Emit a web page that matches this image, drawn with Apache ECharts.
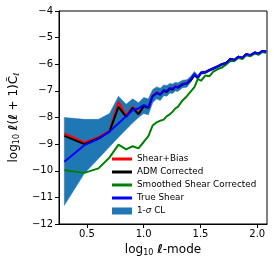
<!DOCTYPE html>
<html>
<head>
<meta charset="utf-8">
<script src="https://cdn.jsdelivr.net/npm/echarts@6/dist/echarts.min.js"></script>
<style>html,body{margin:0;padding:0;background:#fff}#c{width:274px;height:264px}</style>
</head>
<body>
<div id="c"></div>
<script>
// log10(ell) positions
var xVals = [0.301,0.477,0.602,0.699,0.778,0.845,0.903,0.954,1.0,1.041,1.079,1.114,1.146,1.176,1.204,1.23,1.255,1.279,1.301,1.342,1.38,1.415,1.447,1.477,1.505,1.544,1.58,1.613,1.653,1.69,1.724,1.763,1.799,1.833,1.869,1.903,1.94,1.978,2.013,2.045,2.079];
var shearBias = [-8.6,-8.94,-8.74,-8.5,-7.41,-7.92,-7.6,-7.85,-7.55,-7.62,-7.18,-7.05,-7.12,-6.98,-7.02,-6.9,-6.93,-6.82,-6.86,-6.74,-6.7,-6.58,-6.4,-6.5,-6.32,-6.3,-6.22,-6.16,-6.08,-6.0,-5.96,-5.8,-5.84,-5.72,-5.76,-5.62,-5.66,-5.56,-5.6,-5.5,-5.53];
var admCorrected = [-8.69,-9.0,-8.78,-8.53,-7.6,-7.98,-7.64,-7.88,-7.58,-7.64,-7.2,-7.08,-7.14,-7.0,-7.04,-6.92,-6.95,-6.84,-6.88,-6.76,-6.72,-6.6,-6.42,-6.5,-6.32,-6.3,-6.22,-6.16,-6.08,-6.0,-5.96,-5.8,-5.84,-5.72,-5.76,-5.62,-5.66,-5.56,-5.6,-5.5,-5.53];
var smoothed = [-9.98,-10.08,-9.91,-9.5,-9.02,-9.2,-9.08,-9.16,-8.92,-8.7,-8.3,-8.18,-8.12,-8.08,-7.95,-7.88,-7.78,-7.66,-7.6,-7.36,-7.2,-7.02,-6.86,-6.55,-6.62,-6.42,-6.45,-6.28,-6.18,-6.12,-6.02,-5.88,-5.88,-5.76,-5.8,-5.66,-5.7,-5.6,-5.64,-5.54,-5.57];
var trueShear = [-9.66,-9.04,-8.8,-8.53,-8.22,-7.95,-7.72,-7.66,-7.53,-7.62,-7.2,-7.08,-7.14,-6.98,-7.0,-6.9,-6.92,-6.84,-6.86,-6.74,-6.72,-6.56,-6.36,-6.5,-6.32,-6.3,-6.22,-6.16,-6.08,-6.0,-5.96,-5.8,-5.84,-5.72,-5.76,-5.62,-5.66,-5.56,-5.6,-5.5,-5.53];
var clUpper = [-8.0,-8.07,-8.07,-7.85,-7.2,-7.5,-7.3,-7.45,-7.25,-7.3,-6.95,-6.85,-6.9,-6.78,-6.8,-6.72,-6.74,-6.68,-6.7,-6.6,-6.58,-6.45,-6.27,-6.42,-6.26,-6.25,-6.17,-6.11,-6.04,-5.96,-5.92,-5.77,-5.81,-5.69,-5.73,-5.6,-5.64,-5.54,-5.58,-5.48,-5.51];
var clLower = [-11.3,-10.1,-9.54,-9.1,-8.74,-8.45,-8.2,-8.0,-7.85,-7.9,-7.45,-7.3,-7.36,-7.18,-7.2,-7.08,-7.1,-7.0,-7.02,-6.88,-6.86,-6.67,-6.45,-6.58,-6.38,-6.35,-6.27,-6.21,-6.12,-6.04,-6.0,-5.83,-5.87,-5.75,-5.79,-5.64,-5.68,-5.58,-5.62,-5.52,-5.55];
var xTicks = [0.5, 1.0, 1.5, 2.0];

function pairs(ys){ return xVals.map(function(x,i){ return [x, ys[i]]; }); }
var lineIcon = 'path://M0,0H20V3H0Z';
var FONT = 'DejaVu Sans';

var chart = echarts.init(document.getElementById('c'), null, {renderer:'canvas'});
function lineSeries(name, ys, color){
  return {name:name, type:'line', data:pairs(ys), symbol:'none', showSymbol:false,
    lineStyle:{color:color, width:2}, itemStyle:{color:color}, animation:false};
}
var bandSeries = {
  name:'1-σ CL', type:'custom', clip:true, silent:true, animation:false,
  itemStyle:{color:'#1f77b4'},
  data:[[xVals[0], clUpper[0]]],
  renderItem:function(params, api){
    if (params.dataIndex !== 0) return;
    var pts = [];
    for (var i=0;i<xVals.length;i++) pts.push(api.coord([xVals[i], clUpper[i]]));
    for (var j=xVals.length-1;j>=0;j--) pts.push(api.coord([xVals[j], clLower[j]]));
    return {type:'polygon', shape:{points:pts}, style:{fill:'#1f77b4', stroke:'#1f77b4', lineWidth:0.5}};
  }
};
chart.setOption({
  animation:false,
  backgroundColor:'#fff',
  grid:{left:53, right:7, top:11, bottom:40, show:true, borderColor:'#000', borderWidth:1},
  xAxis:{type:'value', min:0.254, max:2.086,
    axisLine:{show:true, lineStyle:{color:'#000', width:1}},
    axisTick:{show:true, length:4, inside:false, customValues:xTicks, lineStyle:{color:'#000'}},
    axisLabel:{customValues:xTicks, color:'#000', fontSize:10, fontFamily:FONT, margin:5,
      formatter:function(v){return v.toFixed(1);}},
    splitLine:{show:false},
    name:'{t|log}{s|10}{t| }{b|ℓ}{t|-mode}', nameLocation:'middle', nameGap:17,
    nameTextStyle:{color:'#000', fontFamily:FONT, fontSize:12,
      rich:{t:{fontSize:12, fontFamily:FONT, color:'#000'},
            s:{fontSize:8, fontFamily:FONT, color:'#000', verticalAlign:'bottom', padding:[6,0,0,0]},
            b:{fontSize:12, fontFamily:FONT, color:'#000', fontStyle:'italic', fontWeight:'bold'}}}
  },
  yAxis:{type:'value', min:-12, max:-4, interval:1,
    axisLine:{show:true, lineStyle:{color:'#000', width:1}},
    axisTick:{show:true, length:4, inside:false, lineStyle:{color:'#000'}},
    axisLabel:{color:'#000', fontSize:10, fontFamily:FONT, margin:6,
      formatter:function(v){return (v<0?'\u2212':'')+Math.abs(v);}},
    splitLine:{show:false},
    name:'{t|log}{s|10}{t| }{b|ℓ}{t|(}{b|ℓ}{t| + 1)}{t|C\u0303}{s|ℓ}', nameLocation:'middle', nameGap:38, nameRotate:90,
    nameTextStyle:{color:'#000', fontFamily:FONT, fontSize:12,
      rich:{t:{fontSize:12, fontFamily:FONT, color:'#000'},
            s:{fontSize:8, fontFamily:FONT, color:'#000', verticalAlign:'bottom', padding:[6,0,0,0]},
            b:{fontSize:12, fontFamily:FONT, color:'#000', fontStyle:'italic', fontWeight:'bold'}}}
  },
  legend:{orient:'vertical', left:112, top:153, itemWidth:20, itemHeight:7, itemGap:1, padding:0,
    textStyle:{color:'#000', fontSize:8.8, fontFamily:FONT, lineHeight:12,
      rich:{a:{fontSize:8.8, fontFamily:FONT, color:'#000', lineHeight:12}, g:{fontSize:8.8, fontFamily:FONT, color:'#000', fontStyle:'italic', lineHeight:12}}},
    formatter:function(n){ return n==='1-σ CL' ? '{a|1-}{g|σ}{a| CL}' : n; },
    data:[
      {name:'Shear+Bias', icon:lineIcon},
      {name:'ADM Corrected', icon:lineIcon},
      {name:'Smoothed Shear Corrected', icon:lineIcon},
      {name:'True Shear', icon:lineIcon},
      {name:'1-σ CL', icon:'rect'}
    ]
  },
  series:[
    bandSeries,
    lineSeries('Shear+Bias', shearBias, '#ff0000'),
    lineSeries('ADM Corrected', admCorrected, '#000000'),
    lineSeries('Smoothed Shear Corrected', smoothed, '#008000'),
    lineSeries('True Shear', trueShear, '#0000ff')
  ]
});
</script>
</body>
</html>
